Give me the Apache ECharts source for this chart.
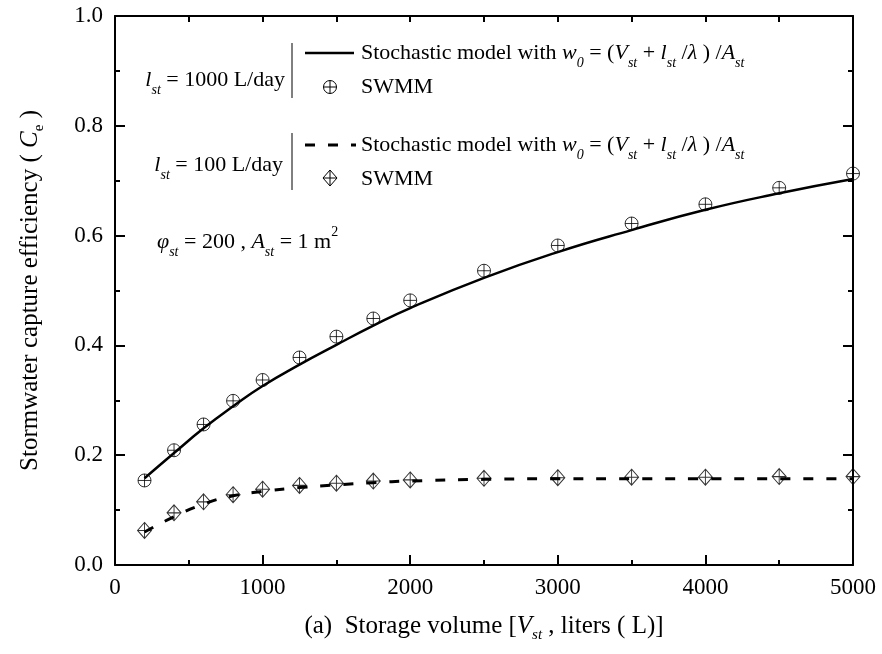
<!DOCTYPE html>
<html>
<head>
<meta charset="utf-8">
<script src="https://cdn.jsdelivr.net/npm/echarts@6/dist/echarts.min.js"></script>
<style>
html,body{margin:0;padding:0;background:#fff;}
#chart{width:882px;height:654px;}
</style>
</head>
<body>
<div id="chart"></div>
<script>
// ---- data ----
var volumes = [200, 400, 600, 800, 1000, 1250, 1500, 1750, 2000, 2500, 3000, 3500, 4000, 4500, 5000];
var swmm1000 = [0.154, 0.209, 0.256, 0.299, 0.337, 0.378, 0.416, 0.449, 0.482, 0.536, 0.582, 0.622, 0.657, 0.687, 0.713];
var model1000 = [0.158, 0.204, 0.249, 0.289, 0.326, 0.365, 0.401, 0.436, 0.468, 0.523, 0.570, 0.610, 0.647, 0.677, 0.703];
var swmm100 = [0.063, 0.095, 0.115, 0.128, 0.138, 0.145, 0.149, 0.153, 0.155, 0.158, 0.159, 0.160, 0.160, 0.161, 0.161];
var model100 = [0.060, 0.088, 0.111, 0.126, 0.134, 0.141, 0.146, 0.150, 0.153, 0.156, 0.157, 0.157, 0.157, 0.157, 0.157];
var xTicks = [0, 1000, 2000, 3000, 4000, 5000];
var yTicks = [0.0, 0.2, 0.4, 0.6, 0.8, 1.0];

function pairs(xs, ys) { return xs.map(function (x, i) { return [x, ys[i]]; }); }

var FONT = 'Liberation Serif';
var circleCross = 'path://M0,-10A10,10,0,1,1,0,10A10,10,0,1,1,0,-10ZM-10,0L10,0M0,-10L0,10';
var diamondCross = 'path://M0,-10L10,0L0,10L-10,0ZM-10,0L10,0M0,-10L0,10';

function richSet(colorKey, size, subSize) {
  function s(o) { var r = Object.assign({fontFamily: FONT}, o); r[colorKey] = '#000'; return r; }
  return {
    n: s({fontSize: size, lineHeight: 34}),
    i: s({fontSize: size, fontStyle: 'italic', lineHeight: 34}),
    sub: s({fontSize: subSize, fontStyle: 'italic', verticalAlign: 'bottom', lineHeight: 15}),
    subr: s({fontSize: subSize, verticalAlign: 'bottom', lineHeight: 15}),
    sup: s({fontSize: subSize, verticalAlign: 'top', lineHeight: 15})
  };
}
var richG = richSet('fill', 22, 14);
var richAxis = richSet('color', 25, 15);

function gText(x, y, text, align) {
  return {
    type: 'text', z: 100,
    style: {
      x: x, y: y, text: text, rich: richG,
      align: align || 'left', textAlign: align || 'left',
      verticalAlign: 'middle', textVerticalAlign: 'middle',
      fontFamily: FONT, fontSize: 22, fill: '#000'
    }
  };
}
function gLine(x1, y1, x2, y2, w, dash) {
  return { type: 'line', z: 100, shape: {x1: x1, y1: y1, x2: x2, y2: y2},
    style: {stroke: '#000', lineWidth: w, lineDash: dash || null} };
}

var modelTxt = '{n|Stochastic model with }{i|w}{sub|0}{n| = (}{i|V}{sub|st}{n| + }{i|l}{sub|st}{n| /}{i|λ}{n| ) /}{i|A}{sub|st}';

var graphics = [
  gLine(292, 43, 292, 98, 1),
  gLine(292, 133, 292, 190, 1),
  gText(285, 80, '{i|l}{sub|st}{n| = 1000 L/day}', 'right'),
  gText(283, 165, '{i|l}{sub|st}{n| = 100 L/day}', 'right'),
  gText(157, 242, '{i|φ}{sub|st}{n| = 200 , }{i|A}{sub|st}{n| = 1 m}{sup|2}', 'left'),
  gLine(305, 53, 354, 53, 2.5),
  gText(361, 53, modelTxt, 'left'),
  {type: 'circle', z: 100, shape: {cx: 330, cy: 87, r: 6.5}, style: {fill: 'none', stroke: '#000', lineWidth: 1}},
  gLine(323.5, 87, 336.5, 87, 1),
  gLine(330, 80.5, 330, 93.5, 1),
  gText(361, 87, '{n|SWMM}', 'left'),
  gLine(305, 145, 356, 145, 3, [10, 13]),
  gText(361, 145, modelTxt, 'left'),
  {type: 'polygon', z: 100, shape: {points: [[330, 170], [337, 178], [330, 186], [323, 178]]}, style: {fill: 'none', stroke: '#000', lineWidth: 1}},
  gLine(323, 178, 337, 178, 1),
  gLine(330, 170, 330, 186, 1),
  gText(361, 179, '{n|SWMM}', 'left')
];

var axisLineStyle = {show: true, onZero: false, lineStyle: {color: '#000', width: 2}};

var option = {
  animation: false,
  backgroundColor: '#fff',
  grid: {left: 115, right: 29, top: 16, bottom: 89, containLabel: false},
  xAxis: [{
    type: 'value', position: 'bottom', min: xTicks[0], max: xTicks[xTicks.length - 1], interval: 1000,
    axisLine: axisLineStyle,
    axisTick: {show: true, inside: true, length: 10, lineStyle: {color: '#000', width: 2}},
    minorTick: {show: true, splitNumber: 2, length: 5, lineStyle: {color: '#000', width: 2}},
    splitLine: {show: false}, minorSplitLine: {show: false},
    axisLabel: {color: '#000', fontFamily: FONT, fontSize: 23, margin: 11,
      formatter: function (v) { return String(v); }},
    name: '{n|(a)  Storage volume [}{i|V}{sub|st}{n| , liters ( L)]}',
    nameLocation: 'middle', nameGap: 44,
    nameTextStyle: {fontFamily: FONT, fontSize: 25, color: '#000', rich: richAxis}
  }, {
    type: 'value', position: 'top', min: 0, max: 5000, interval: 1000,
    axisLine: axisLineStyle,
    axisTick: {show: true, inside: true, length: 6, lineStyle: {color: '#000', width: 2}},
    minorTick: {show: true, splitNumber: 2, length: 6, lineStyle: {color: '#000', width: 2}},
    splitLine: {show: false}, axisLabel: {show: false}
  }],
  yAxis: [{
    type: 'value', position: 'left', min: yTicks[0], max: yTicks[yTicks.length - 1], interval: 0.2,
    axisLine: axisLineStyle,
    axisTick: {show: true, inside: true, length: 10, lineStyle: {color: '#000', width: 2}},
    minorTick: {show: true, splitNumber: 2, length: 5, lineStyle: {color: '#000', width: 2}},
    splitLine: {show: false}, minorSplitLine: {show: false},
    axisLabel: {color: '#000', fontFamily: FONT, fontSize: 23, margin: 12,
      formatter: function (v) { return v.toFixed(1); }},
    name: '{n|Stormwater capture efficiency ( }{i|C}{subr|e}{n| )}',
    nameLocation: 'middle', nameGap: 68, nameRotate: 90,
    nameTextStyle: {fontFamily: FONT, fontSize: 25, color: '#000', rich: richAxis}
  }, {
    type: 'value', position: 'right', min: 0, max: 1, interval: 0.2,
    axisLine: axisLineStyle,
    axisTick: {show: true, inside: true, length: 10, lineStyle: {color: '#000', width: 2}},
    minorTick: {show: true, splitNumber: 2, length: 5, lineStyle: {color: '#000', width: 2}},
    splitLine: {show: false}, axisLabel: {show: false}
  }],
  series: [{
    name: 'model1000', type: 'line', xAxisIndex: 0, yAxisIndex: 0,
    data: pairs(volumes, model1000), smooth: 0.5, symbol: 'none',
    lineStyle: {color: '#000', width: 2.5}
  }, {
    name: 'model100', type: 'line', xAxisIndex: 0, yAxisIndex: 0,
    data: pairs(volumes, model100), smooth: 0.5, symbol: 'none',
    lineStyle: {color: '#000', width: 3, type: [10, 13]}
  }, {
    name: 'SWMM1000', type: 'scatter', xAxisIndex: 0, yAxisIndex: 0,
    data: pairs(volumes, swmm1000), symbol: circleCross, symbolSize: 13,
    itemStyle: {color: 'rgba(0,0,0,0)', borderColor: '#000', borderWidth: 1}, z: 5
  }, {
    name: 'SWMM100', type: 'scatter', xAxisIndex: 0, yAxisIndex: 0,
    data: pairs(volumes, swmm100), symbol: diamondCross, symbolSize: [14, 16],
    itemStyle: {color: 'rgba(0,0,0,0)', borderColor: '#000', borderWidth: 1}, z: 5
  }],
  graphic: graphics
};

var chart = echarts.init(document.getElementById('chart'), null, {renderer: 'canvas'});
chart.setOption(option);
</script>
</body>
</html>
